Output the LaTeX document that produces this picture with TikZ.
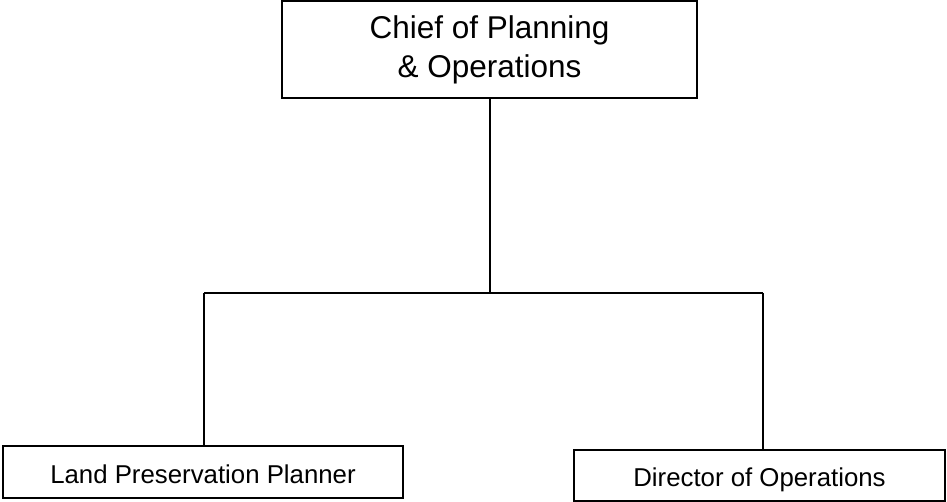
\documentclass[tikz,border=0pt]{standalone}
\usepackage{fontspec}
\setmainfont{Liberation Sans}
\begin{document}
\begin{tikzpicture}[x=1pt,y=-1pt,
  box/.style={draw=black,line width=1.7pt,rectangle,inner sep=0pt,align=center},
  conn/.style={draw=black,line width=1.7pt}]
\useasboundingbox (0,0) rectangle (947,502);
\node[box,minimum width=415pt,minimum height=97pt,font=\fontsize{31.5}{39}\selectfont] (chief) at (489.5,49.75) {Chief of Planning\\\& Operations};
\node[box,minimum width=400pt,minimum height=52pt,font=\fontsize{25.8}{30}\selectfont] (lpp) at (203,472) {};
\node[font=\fontsize{25.8}{30}\selectfont,inner sep=0pt] (lppt) at (203,474) {Land Preservation Planner};
\node[box,minimum width=371pt,minimum height=51pt] (dop) at (759.5,475.5) {};
\node[font=\fontsize{25.8}{30}\selectfont,inner sep=0pt] (dopt) at (759.5,479.5) {Director of Operations};
\coordinate (busL) at (204,293);
\coordinate (busR) at (763,293);
\coordinate (busM) at (490,293);
\draw[conn] (chief.south -| busM) -- (busM);
\draw[conn] (busL) -- (busR);
\draw[conn] (busL) -- (lpp.north -| busL);
\draw[conn] (busR) -- (dop.north -| busR);
\end{tikzpicture}
\end{document}
